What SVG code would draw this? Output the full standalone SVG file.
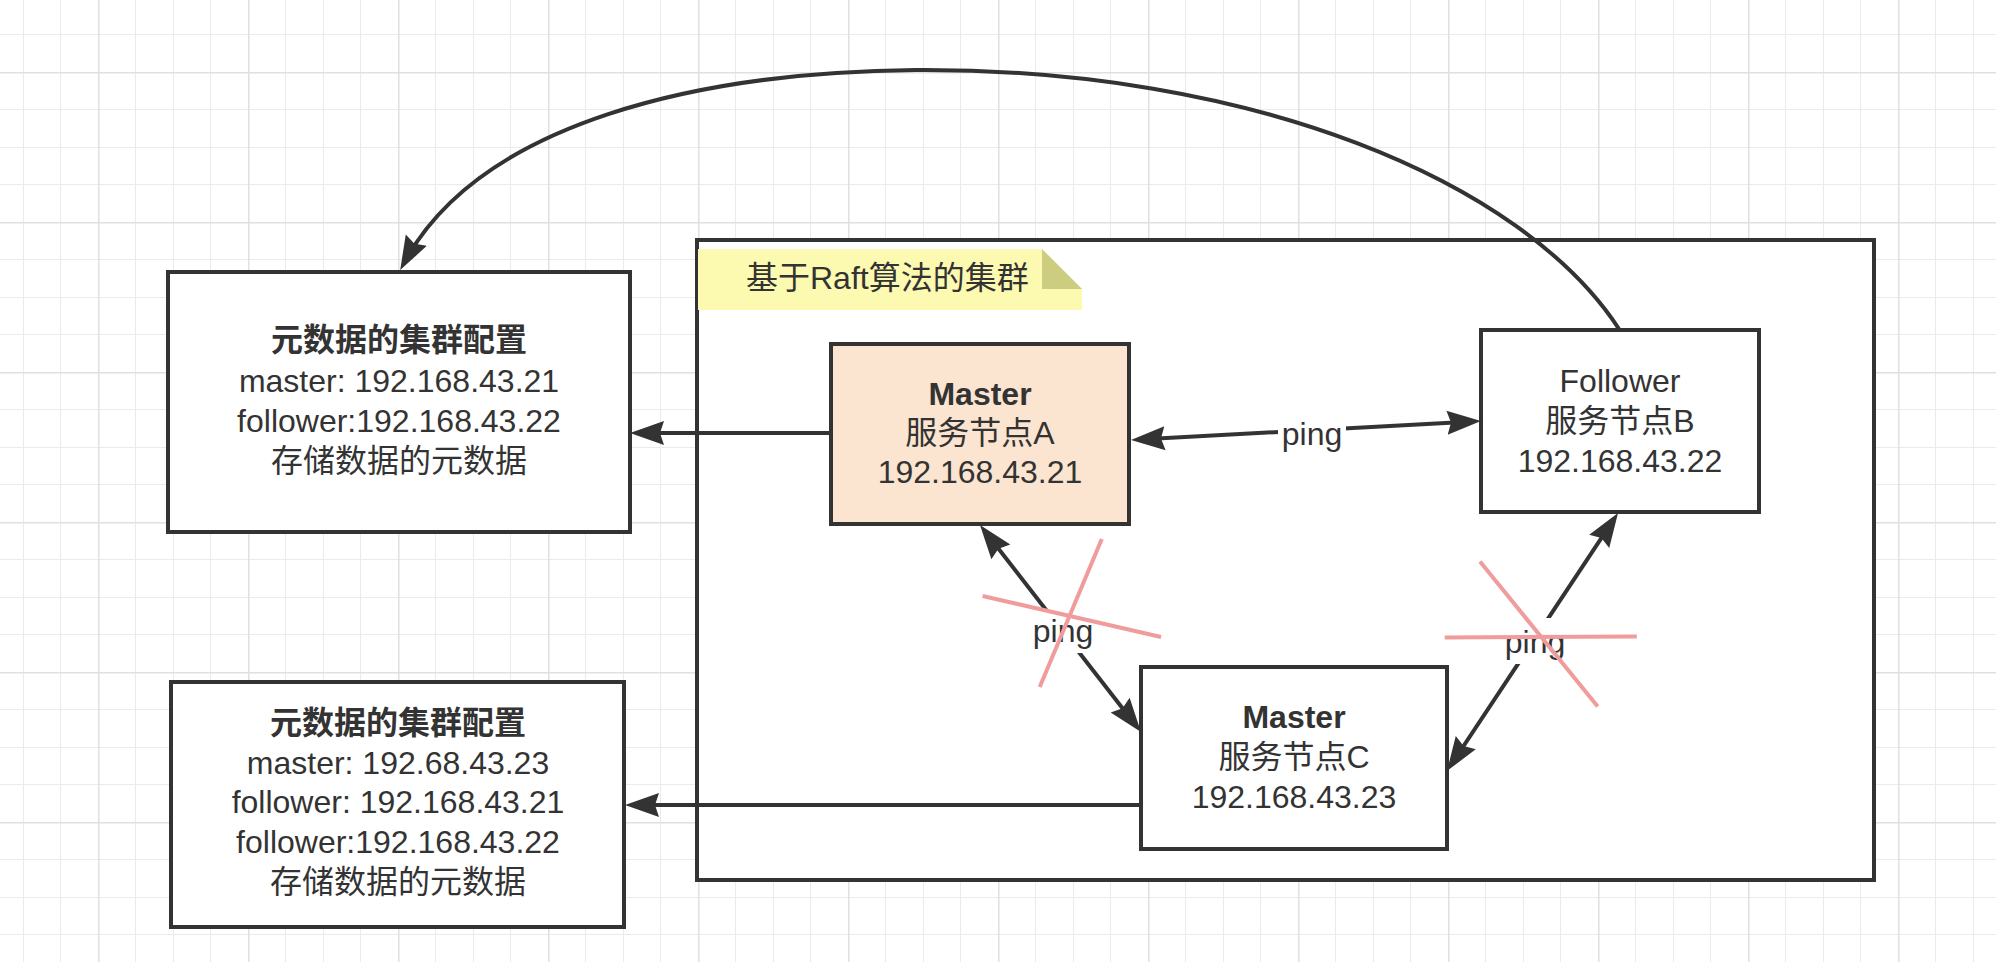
<svg xmlns="http://www.w3.org/2000/svg" width="1996" height="962" viewBox="0 0 1996 962">
  <defs>
    <pattern id="grid" patternUnits="userSpaceOnUse" x="98" y="72" width="150" height="150">
      <rect x="0" y="0" width="150" height="150" fill="#ffffff"/>
      <rect x="37" y="0" width="1" height="150" fill="#ebebeb"/>
      <rect x="75" y="0" width="1" height="150" fill="#ebebeb"/>
      <rect x="112" y="0" width="1" height="150" fill="#ebebeb"/>
      <rect x="0" y="37" width="150" height="1" fill="#ebebeb"/>
      <rect x="0" y="75" width="150" height="1" fill="#ebebeb"/>
      <rect x="0" y="112" width="150" height="1" fill="#ebebeb"/>
      <rect x="0" y="0" width="1.5" height="150" fill="#e0e0e0"/>
      <rect x="0" y="0" width="150" height="1.5" fill="#e0e0e0"/>
    </pattern>
    <marker id="arr" markerUnits="userSpaceOnUse" viewBox="0 -15 40 30" markerWidth="40" markerHeight="30" refX="26" refY="0" orient="auto-start-reverse">
      <path d="M0,-12 L34,0 L0,12 L4,0 Z" fill="#333333"/>
    </marker>
    <style>
      .box { fill: #ffffff; stroke: #333333; stroke-width: 4; }
      .t { font-family: "Liberation Sans", "Noto Sans CJK SC", sans-serif; font-size: 32px; fill: #333333; text-anchor: middle; }
      .b { font-weight: bold; }
      .edge { fill: none; stroke: #333333; stroke-width: 4; }
      .lblbg { fill: #ffffff; }
      .cross { stroke: #f19c9c; stroke-width: 4; fill: none; }
    </style>
  </defs>

  <rect x="0" y="0" width="1996" height="962" fill="url(#grid)"/>

  <g id="cluster">
    <rect class="box" x="697" y="240" width="1177" height="640"/>
  </g>

  <g id="note">
    <path d="M698,249 L1042,249 L1082,289 L1082,310 L698,310 Z" fill="#fcf9b0"/>
    <path d="M1042,249 L1042,289 L1082,289 Z" fill="#cdcd82"/>
    <text class="t" x="746" y="289" style="text-anchor:start">基于Raft算法的集群</text>
  </g>

  <g id="meta-top">
    <rect class="box" x="168" y="272" width="462" height="260"/>
    <text class="t b" x="399" y="351">元数据的集群配置</text>
    <text class="t" x="399" y="392">master: 192.168.43.21</text>
    <text class="t" x="399" y="432">follower:192.168.43.22</text>
    <text class="t" x="399" y="472">存储数据的元数据</text>
  </g>

  <g id="meta-bottom">
    <rect class="box" x="171" y="682" width="453" height="245"/>
    <text class="t b" x="398" y="734">元数据的集群配置</text>
    <text class="t" x="398" y="774">master: 192.68.43.23</text>
    <text class="t" x="398" y="813">follower: 192.168.43.21</text>
    <text class="t" x="398" y="853">follower:192.168.43.22</text>
    <text class="t" x="398" y="893">存储数据的元数据</text>
  </g>

  <g id="node-a">
    <rect class="box" x="831" y="344" width="298" height="180" style="fill:#fbe5d0"/>
    <text class="t b" x="980" y="405">Master</text>
    <text class="t" x="980" y="444">服务节点A</text>
    <text class="t" x="980" y="483">192.168.43.21</text>
  </g>

  <g id="node-b">
    <rect class="box" x="1481" y="330" width="278" height="182"/>
    <text class="t" x="1620" y="392">Follower</text>
    <text class="t" x="1620" y="432">服务节点B</text>
    <text class="t" x="1620" y="472">192.168.43.22</text>
  </g>

  <g id="node-c">
    <rect class="box" x="1141" y="667" width="306" height="182"/>
    <text class="t b" x="1294" y="728">Master</text>
    <text class="t" x="1294" y="768">服务节点C</text>
    <text class="t" x="1294" y="808">192.168.43.23</text>
  </g>

  <g id="connectors">
    <path class="edge" d="M831,433 L638,433" marker-end="url(#arr)"/>
    <path class="edge" d="M1141,805 L633,805" marker-end="url(#arr)"/>
    <path class="edge" d="M1139,439.6 L1473,421.4" marker-start="url(#arr)" marker-end="url(#arr)"/>
    <path class="edge" d="M984.9,531.3 L1136.1,725.7" marker-start="url(#arr)" marker-end="url(#arr)"/>
    <path class="edge" d="M1613.6,519.7 L1451.4,764.3" marker-start="url(#arr)" marker-end="url(#arr)"/>
    <path class="edge" d="M1619,329 C1522,180 1250,68 916,70 C700,72 480,122 404,263" marker-end="url(#arr)"/>

    <rect class="lblbg" x="1278" y="414" width="68" height="40"/>
    <text class="t" x="1312" y="445">ping</text>
    <rect class="lblbg" x="1031" y="610" width="64" height="43"/>
    <text class="t" x="1063" y="642">ping</text>
    <rect class="lblbg" x="1503" y="618" width="65" height="46"/>
    <text class="t" x="1535" y="653">ping</text>

    <line class="cross" x1="982.6" y1="596" x2="1161" y2="637"/>
    <line class="cross" x1="1101.8" y1="539" x2="1039.7" y2="687"/>
    <line class="cross" x1="1480" y1="561.5" x2="1597.7" y2="706.6"/>
    <line class="cross" x1="1444.7" y1="637.4" x2="1636.8" y2="636.5"/>
  </g>
</svg>
